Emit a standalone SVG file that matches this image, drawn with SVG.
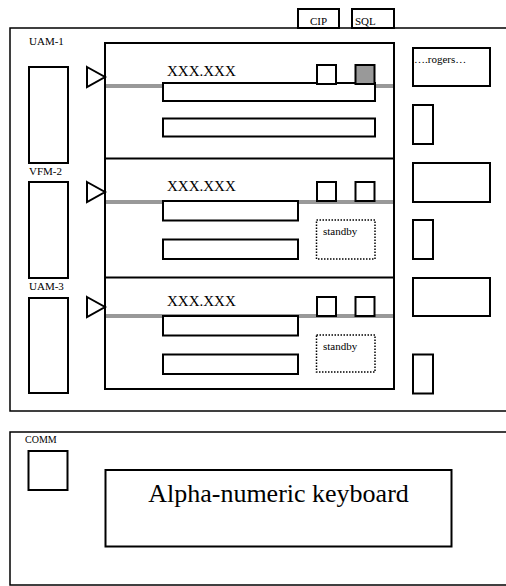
<svg xmlns="http://www.w3.org/2000/svg" width="506" height="586" viewBox="0 0 506 586" font-family="'Liberation Serif', 'Times New Roman', 'DejaVu Serif', serif">
<style>
.b{fill:#fff;stroke:#000;stroke-width:2}
.f{fill:none;stroke:#000;stroke-width:1.5}
.g{stroke:#999;stroke-width:4;fill:none}
.d{fill:#fff;stroke:#000;stroke-width:1.5;stroke-dasharray:1.5 1.5}
text{font-family:'Liberation Serif','Times New Roman','DejaVu Serif',serif;fill:#000}
.tri{fill:#fff;stroke:#000;stroke-width:2}
</style>
<rect width="506" height="586" fill="#fff"/>
<g id="top-panel"><rect class="f" x="10" y="28" width="510" height="383"/></g>
<g id="cip"><rect class="b" x="298" y="9" width="41" height="19"/><text x="318.5" y="25" font-size="11" text-anchor="middle" font-family="'Liberation Serif', serif">CIP</text></g>
<g id="sql"><rect class="b" x="352" y="9" width="42" height="19"/><text x="355" y="25" font-size="11" font-family="'Liberation Serif', serif">SQL</text></g>
<g id="connectors">
<line class="g" x1="106" y1="86" x2="163" y2="86"/>
<line class="g" x1="375" y1="86" x2="393" y2="86"/>
<line class="g" x1="106" y1="202" x2="393" y2="202"/>
<line class="g" x1="106" y1="316" x2="393" y2="316"/>
</g>
<g id="stack"><rect x="105" y="43" width="289" height="346" fill="none" stroke="#000" stroke-width="2"/>
<line x1="105" y1="158.5" x2="394" y2="158.5" stroke="#000" stroke-width="2"/>
<line x1="105" y1="277.5" x2="394" y2="277.5" stroke="#000" stroke-width="2"/>
</g>
<g id="uam1" font-family="'Liberation Serif', serif"><text x="29" y="45" font-size="11">UAM-1</text><rect class="b" x="29" y="67" width="39" height="96"/>
<polygon class="tri" points="87,67 105,77 87,87"/></g>
<g id="vfm2" font-family="'Liberation Serif', serif"><text x="29" y="175" font-size="11">VFM-2</text><rect class="b" x="29" y="182" width="39" height="96"/>
<polygon class="tri" points="87,182 105,192 87,202"/></g>
<g id="uam3" font-family="'Liberation Serif', serif"><text x="29" y="290" font-size="11">UAM-3</text><rect class="b" x="29" y="298" width="39" height="95"/>
<polygon class="tri" points="87,297 105,307 87,317"/></g>
<g id="row1" font-family="'Liberation Serif', serif">
<text x="167" y="76" font-size="15">XXX.XXX</text>
<rect class="b" x="163" y="83" width="212" height="18"/>
<rect class="b" x="163" y="118.5" width="212" height="18"/>
<rect class="b" x="317" y="65" width="19" height="19"/>
<rect class="b" x="355.5" y="65" width="19" height="19" style="fill:#999"/>
</g>
<g id="row2" font-family="'Liberation Serif', serif">
<text x="167" y="191" font-size="15">XXX.XXX</text>
<rect class="b" x="163" y="201" width="135" height="19.5"/>
<rect class="b" x="163" y="239.5" width="135" height="19.5"/>
<rect class="b" x="317" y="182" width="19" height="19"/>
<rect class="b" x="355.5" y="182" width="19" height="19"/>
<rect class="d" x="316.5" y="220" width="58.5" height="39"/>
<text x="323" y="235" font-size="11">standby</text>
</g>
<g id="row3" font-family="'Liberation Serif', serif">
<text x="167" y="306" font-size="15">XXX.XXX</text>
<rect class="b" x="163" y="316" width="135" height="19.5"/>
<rect class="b" x="163" y="354.5" width="135" height="19.5"/>
<rect class="b" x="317" y="297" width="19" height="19"/>
<rect class="b" x="355.5" y="297" width="19" height="19"/>
<rect class="d" x="316.5" y="335" width="58.5" height="37"/>
<text x="323" y="350" font-size="11">standby</text>
</g>
<g id="rogers" font-family="'Liberation Serif', serif"><rect class="b" x="413" y="48" width="77" height="38"/><text x="414" y="63" font-size="11">….rogers…</text></g>
<g id="side1"><rect class="b" x="413" y="105" width="20" height="39"/></g>
<g id="wide2"><rect class="b" x="413" y="163" width="77" height="39"/></g>
<g id="side2"><rect class="b" x="413" y="220" width="20" height="39"/></g>
<g id="wide3"><rect class="b" x="413" y="278" width="77" height="38"/></g>
<g id="side3"><rect class="b" x="413" y="354.5" width="20" height="39"/></g>
<g id="bottom-panel"><rect class="f" x="10" y="432" width="510" height="153"/></g>
<g id="comm" font-family="'Liberation Serif', serif"><text x="25" y="443" font-size="10">COMM</text><rect class="b" x="28.5" y="451" width="39" height="39"/></g>
<g id="keyboard" font-family="'Liberation Serif', serif"><rect class="b" x="105.5" y="470" width="346" height="76.5"/><text x="278.5" y="502" font-size="26" text-anchor="middle">Alpha-numeric keyboard</text></g>
</svg>
